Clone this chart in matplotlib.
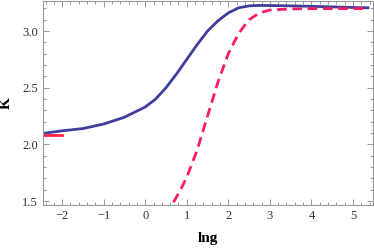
import matplotlib.pyplot as plt
from matplotlib.ticker import MultipleLocator

# solid blue curve
LNG_BLUE = [-2.4, -2.0, -1.5, -1.0, -0.5, 0.0, 0.25, 0.5, 0.75, 1.0, 1.25, 1.5,
            1.75, 2.0, 2.25, 2.5, 2.75, 3.0, 3.5, 4.0, 4.5, 5.0, 5.36]
K_BLUE = [2.10, 2.12, 2.14, 2.18, 2.24, 2.33, 2.40, 2.50, 2.62, 2.75, 2.88, 3.00,
          3.09, 3.16, 3.205, 3.222, 3.226, 3.225, 3.222, 3.218, 3.213, 3.208, 3.205]

# dashed red curve
LNG_RED = [0.68, 0.85, 1.0, 1.25, 1.5, 1.75, 2.0, 2.25, 2.5, 2.75, 3.0, 3.5, 4.0, 5.0, 5.36]
K_RED = [1.49, 1.60, 1.71, 1.95, 2.25, 2.55, 2.80, 2.98, 3.10, 3.16, 3.185, 3.195,
         3.197, 3.198, 3.198]

# short solid red segment at the left edge
LNG_SEG = [-2.46, -2.0]
K_SEG = [2.08, 2.08]

BLUE = "#3d3d9c"
RED = "#ff1a66"
SEG_RED = "#ff2040"
FRAME = "#999999"

plt.rcParams["font.family"] = ["Liberation Serif", "DejaVu Serif"]

fig = plt.figure(figsize=(3.74, 2.48), dpi=100)
ax = fig.add_axes([0.115, 0.173, 0.882, 0.823])

ax.plot(LNG_BLUE, K_BLUE, color=BLUE, lw=2.0)
ax.plot(LNG_RED, K_RED, color=RED, lw=2.0, ls=(0, (3.5, 2)))
ax.plot(LNG_SEG, K_SEG, color=SEG_RED, lw=2.0)

ax.set_xlim(-2.46, 5.48)
ax.set_ylim(1.465, 3.265)

ax.xaxis.set_major_locator(MultipleLocator(1))
ax.xaxis.set_minor_locator(MultipleLocator(0.2))
ax.yaxis.set_major_locator(MultipleLocator(0.5))
ax.yaxis.set_minor_locator(MultipleLocator(0.1))
ax.yaxis.set_major_formatter(plt.FormatStrFormatter("%.1f"))
ax.xaxis.set_major_formatter(plt.FuncFormatter(lambda v, p: f"{int(round(v))}".replace("-", "\u2212")))

for s in ax.spines.values():
    s.set_color(FRAME)
    s.set_linewidth(0.8)
ax.tick_params(which="both", direction="in", top=True, right=True, color=FRAME,
               labelsize=9, labelcolor="#333333", width=0.7)
ax.tick_params(which="major", length=4)
ax.tick_params(which="minor", length=2.2)

ax.set_xlabel("lng", fontsize=11, fontweight="bold", labelpad=7)
ax.set_ylabel("K", fontsize=11, fontweight="bold", labelpad=7)

fig.savefig("out.png", dpi=100)
